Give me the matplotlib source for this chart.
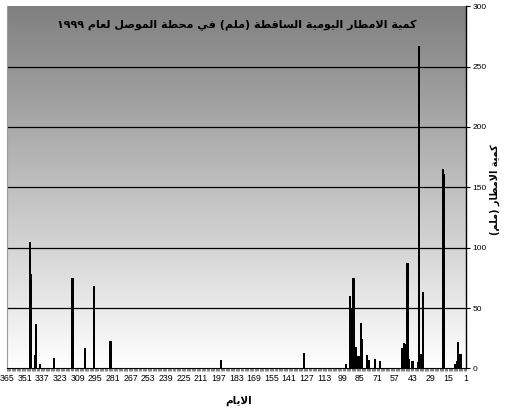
import numpy as np
import matplotlib
matplotlib.use("Agg")
import matplotlib.pyplot as plt
from matplotlib.colors import LinearSegmentedColormap

# daily rainfall, Mosul station 1999 (only days with rain)
days = [347, 346, 343, 342, 339, 328, 313, 303, 296, 283, 195, 129,
        96, 93, 92, 90, 88, 87, 86, 84, 83, 79, 78, 73, 69,
        51, 50, 49, 47, 46, 43, 39, 38, 36, 35, 19, 18, 9, 8, 7, 6, 5]
rain = [105, 78, 11, 37, 4, 9, 75, 17, 68, 23, 7, 13,
        4, 60, 50, 75, 18, 10, 10, 38, 24, 11, 7, 8, 6,
        17, 21, 20, 87, 8, 6, 5, 267, 12, 63, 165, 161, 4, 6, 22, 12, 12]

x_ticks = list(range(365, 0, -14))
y_ticks = [0, 50, 100, 150, 200, 250, 300]

title = "كمية الامطار اليومية الساقطة (ملم) في محطة الموصل لعام ١٩٩٩"
xlabel = "الايام"
ylabel = "كمية الامطار (ملم)"

# small arabic shaper: (isolated, final, initial, medial)
FORMS = {
    'ا': ('\uFE8D', '\uFE8E', None, None),
    'ة': ('\uFE93', '\uFE94', None, None),
    'ر': ('\uFEAD', '\uFEAE', None, None),
    'و': ('\uFEED', '\uFEEE', None, None),
    'ح': ('\uFEA1', '\uFEA2', '\uFEA3', '\uFEA4'),
    'س': ('\uFEB1', '\uFEB2', '\uFEB3', '\uFEB4'),
    'ص': ('\uFEB9', '\uFEBA', '\uFEBB', '\uFEBC'),
    'ط': ('\uFEC1', '\uFEC2', '\uFEC3', '\uFEC4'),
    'ع': ('\uFEC9', '\uFECA', '\uFECB', '\uFECC'),
    'ف': ('\uFED1', '\uFED2', '\uFED3', '\uFED4'),
    'ق': ('\uFED5', '\uFED6', '\uFED7', '\uFED8'),
    'ك': ('\uFED9', '\uFEDA', '\uFEDB', '\uFEDC'),
    'ل': ('\uFEDD', '\uFEDE', '\uFEDF', '\uFEE0'),
    'م': ('\uFEE1', '\uFEE2', '\uFEE3', '\uFEE4'),
    'ي': ('\uFEF1', '\uFEF2', '\uFEF3', '\uFEF4'),
}
LAM_ALEF = ('\uFEFB', '\uFEFC')
MIRROR = {'(': ')', ')': '('}


def shape(text):
    chars = []
    i = 0
    while i < len(text):
        if text[i] == 'ل' and i + 1 < len(text) and text[i + 1] == 'ا':
            chars.append('LA')
            i += 2
        else:
            chars.append(text[i])
            i += 1
    out = []
    for k, c in enumerate(chars):
        prev = chars[k - 1] if k > 0 else None
        nxt = chars[k + 1] if k + 1 < len(chars) else None
        joins_prev = prev in FORMS and FORMS[prev][2] is not None
        if c == 'LA':
            out.append(LAM_ALEF[1] if joins_prev else LAM_ALEF[0])
        elif c in FORMS:
            iso, fin, ini, med = FORMS[c]
            joins_next = ini is not None and (nxt in FORMS or nxt == 'LA')
            if joins_prev and joins_next:
                out.append(med)
            elif joins_prev:
                out.append(fin)
            elif joins_next:
                out.append(ini)
            else:
                out.append(iso)
        else:
            out.append(MIRROR.get(c, c))
    # visual order: reverse, but keep digit runs left to right
    out = out[::-1]
    res = []
    run = []
    for c in out:
        if c.isdigit():
            run.append(c)
        else:
            res.extend(run[::-1])
            run = []
            res.append(c)
    res.extend(run[::-1])
    return ''.join(res)


fig = plt.figure(figsize=(5.09, 4.13), dpi=100)
ax = fig.add_axes([0.0128, 0.108, 0.903, 0.877])

grad = LinearSegmentedColormap.from_list("bg", ["#ffffff", "#7f7f7f"])
ax.imshow(np.linspace(0, 1, 256).reshape(-1, 1)[::-1], cmap=grad,
          extent=[365.5, 0.5, 0, 300], aspect='auto', zorder=0)

for yv in y_ticks[1:-1]:
    ax.axhline(yv, color='black', lw=0.9, zorder=1)

ax.bar(days, rain, width=1.8, color='black', linewidth=0, zorder=2)

ax.set_xlim(365.5, 0.5)
ax.set_ylim(0, 300)

ax.set_xticks(x_ticks)
ax.set_xticklabels([str(t) for t in x_ticks], fontsize=6.3,
                   family='Liberation Sans')
ax.set_xticks(np.arange(0.5, 366, 1), minor=True)
ax.tick_params(axis='x', which='major', length=0, pad=4)
ax.tick_params(axis='x', which='minor', length=2, width=0.5, color='#555555')

ax.yaxis.tick_right()
ax.set_yticks(y_ticks)
ax.set_yticklabels([str(t) for t in y_ticks], fontsize=6.0,
                   family='Liberation Sans')
ax.tick_params(axis='y', length=3, width=0.8, pad=1.5)

ax.spines['top'].set_visible(False)
ax.spines['left'].set_color('#999999')
ax.spines['right'].set_linewidth(1.0)
ax.spines['bottom'].set_linewidth(0.8)

ax.text(0.5, 0.948, shape(title), transform=ax.transAxes, ha='center',
        va='center', fontsize=8.0, fontweight='bold', family='DejaVu Sans')
fig.text(0.468, 0.03, shape(xlabel), ha='center', va='center',
         fontsize=7.5, fontweight='bold', family='DejaVu Sans')
fig.text(0.972, 0.54, shape(ylabel), ha='center', va='center',
         rotation=90, fontsize=7.0, fontweight='bold', family='DejaVu Sans')

fig.savefig("out.png", dpi=100)
